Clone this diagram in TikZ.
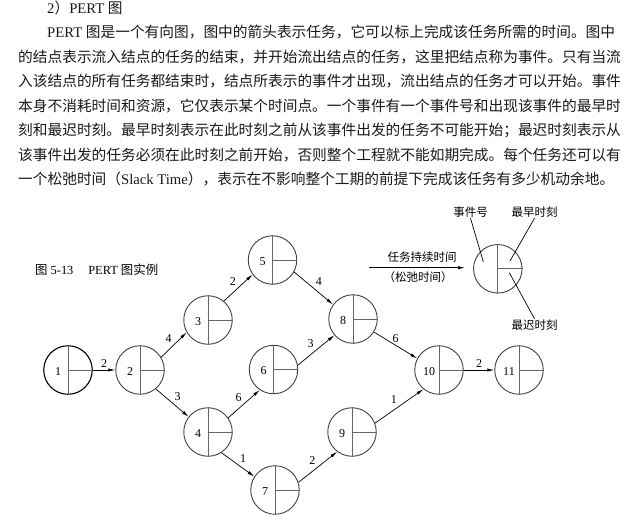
\documentclass[tikz,border=0pt]{standalone}
\usepackage{fontspec}
\setmainfont{Liberation Serif}
\newfontfamily\cjk{Noto Sans CJK SC}
\usetikzlibrary{arrows.meta, positioning}

\begin{document}
\begin{tikzpicture}[
  x=1pt, y=-1pt,
  txt/.style={anchor=base west, inner sep=0pt, font=\fontsize{14.7}{17}\selectfont, text=black!90},
  event/.style={circle, draw=black!75, line width=0.9pt, minimum size=48.5pt, inner sep=0pt},
  first/.style={draw=black, line width=1.1pt},
  plain/.style={},
  split/.style={draw=black!60, line width=1pt},
  num/.style={font=\fontsize{12}{12}\selectfont, inner sep=0pt},
  task/.style={-{Latex[length=7pt, width=3.2pt]}, line width=0.7pt},
  wt/.style={font=\fontsize{12}{12}\selectfont, inner sep=2pt},
  note/.style={font=\fontsize{11.5}{11.5}\selectfont\cjk, inner sep=1pt},
]
\useasboundingbox (0,0) rectangle (637,522);

% text above the figure
\node[txt] (head) at (47,13.9) {2{\cjk ）}PERT {\cjk 图}};
\node[txt] (t1) at (47,37.9) {PERT {\cjk 图是一个有向图，图中的箭头表示任务，它可以标上完成该任务所需的时间。图中}};
\node[txt] (t2) at (18,62.4) {\cjk 的结点表示流入结点的任务的结束，并开始流出结点的任务，这里把结点称为事件。只有当流};
\node[txt] (t3) at (18,86.8) {\cjk 入该结点的所有任务都结束时，结点所表示的事件才出现，流出结点的任务才可以开始。事件};
\node[txt] (t4) at (18,111.3) {\cjk 本身不消耗时间和资源，它仅表示某个时间点。一个事件有一个事件号和出现该事件的最早时};
\node[txt] (t5) at (18,135.7) {\cjk 刻和最迟时刻。最早时刻表示在此时刻之前从该事件出发的任务不可能开始；最迟时刻表示从};
\node[txt] (t6) at (18,160.2) {\cjk 该事件出发的任务必须在此时刻之前开始，否则整个工程就不能如期完成。每个任务还可以有};
\node[txt] (t7) at (18,184.6) {{\cjk 一个松弛时间（}Slack Time{\cjk ），表示在不影响整个工期的前提下完成该任务有多少机动余地。}};

% caption
\node[anchor=west, inner sep=0pt, font=\fontsize{12.4}{12.4}\selectfont] (cap) at (35,270)
  {{\cjk 图} 5-13\hspace{1.2em}PERT {\cjk 图实例}};

% events
\foreach \n/\x/\y/\s in {1/68/370/first, 2/140/370/plain, 3/208/320/plain, 4/208/432/plain,
    5/272.5/260/plain, 6/273.5/369.5/plain, 7/275/490/plain, 8/353/319/plain,
    9/352/432/plain, 10/439/370/plain, 11/519/370/plain} {
  \node[event, \s] (e\n) at (\x,\y) {};
  \draw[split] (e\n.north) -- (e\n.south) (e\n.center) -- (e\n.east);
  \node[num] (n\n) at ([shift={(-10,1.5)}]e\n.center) {\n};
}

% tasks
\foreach \a/\sa/\b/\ea/\w/\p in {
    1/east/2/west/2/above,
    2/31/3/210/4/above left,
    2/310/4/142/3/above right,
    3/50/5/216/2/above left,
    4/35/6/236/6/above left,
    4/303/7/147/1/above right,
    5/331/8/144/4/above right,
    6/10/8/221/3/above left,
    7/18/9/233/2/above left,
    8/328/10/152/6/above,
    9/21/10/231/1/above left,
    10/east/11/west/2/above}
  \draw[task] (e\a.\sa) -- node[wt, \p] (w\a\b) {\w} (e\b.\ea);

% legend
\node[event] (ev) at (497.8,268.8) {};
\draw[split] (ev.north) -- (ev.south) (ev.center) -- (ev.east);
\coordinate (pno) at ([shift={(-14.5,-7)}]ev.center);
\coordinate (pes) at ([shift={(12.2,-7.8)}]ev.center);
\coordinate (pla) at ([shift={(11.5,3.9)}]ev.center);
\node[note] (kno) at (470.5,211.7) {事件号};
\node[note] (kes) at (534.5,211.7) {最早时刻};
\node[note] (kla) at (534.5,325.3) {最迟时刻};
\draw[line width=0.7pt] (kno.south) -- (pno);
\draw[line width=0.7pt] (kes.south) -- (pes);
\draw[line width=0.7pt] (kla.north) -- (pla);

\coordinate (la) at (369.3,267.7);
\coordinate (lb) at (465,267.7);
\draw[task] (la) -- node[note, above=4pt, xshift=5pt] (kdur) {任务持续时间}
                    node[note, below=3pt, xshift=1pt] (kslk) {（松弛时间）} (lb);
\end{tikzpicture}
\end{document}
